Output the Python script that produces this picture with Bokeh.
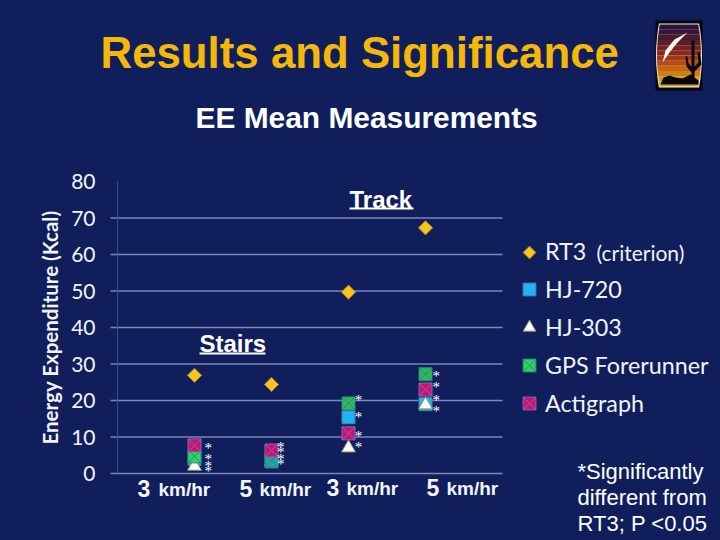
import math
from bokeh.plotting import figure
from bokeh.models import (ColumnDataSource, Label, Legend, LegendItem, PolyAnnotation,
                          BoxAnnotation, FixedTicker, LinearAxis)
from bokeh.embed import file_html
from bokeh.resources import INLINE

categories = [1, 2, 3, 4]
rt3 = [26.9, 24.4, 49.7, 67.3]
hj720 = [4.0, 3.3, 15.4, 19.0]
hj303 = [2.0, 3.3, 7.0, 18.8]
gps = [4.7, 3.6, 19.2, 27.2]
gps_colors = ["#2fd45e", "#1fa8a8", "#2fb85c", "#2fb85c"]
actigraph = [7.7, 6.3, 11.0, 23.0]
star_x = [1.18, 1.18, 1.18, 1.18, 2.12, 2.12, 2.12, 2.12,
          3.13, 3.13, 3.13, 3.13, 4.14, 4.14, 4.14, 4.14]
star_y = [7.9, 4.9, 3.0, 1.4, 8.2, 6.6, 4.9, 3.3,
          21.0, 16.2, 11.2, 8.0, 27.6, 24.6, 21.0, 18.0]
y_ticks = [0, 10, 20, 30, 40, 50, 60, 70, 80]
grid_ticks = [0, 10, 20, 30, 40, 50, 60, 70]
x_labels = [("3", "km/hr"), ("5", "km/hr"), ("3", "km/hr"), ("5", "km/hr")]
series_names = ["RT3", "HJ-720", "HJ-303", "GPS Forerunner", "Actigraph"]

BG = "#101f5c"
GRID = "#7d86bb"

W, H = 720, 540


def X(px):
    return (px - 117) / 77


def Y(py):
    return (473 - py) / 3.65


p = figure(width=W, height=H, output_backend="svg", toolbar_location=None,
           x_range=(X(0), X(W)), y_range=(Y(H), Y(0)),
           x_axis_type=None, y_axis_type=None,
           min_border=0, background_fill_color=BG, border_fill_color=BG, outline_line_color=None)
p.grid.visible = False

ax = LinearAxis(fixed_location=X(110), bounds=(0, 80))
ax.ticker = FixedTicker(ticks=y_ticks)
ax.axis_line_color = None
ax.major_tick_line_color = None
ax.minor_tick_line_color = None
ax.major_label_text_color = "#f2f3f8"
ax.major_label_text_font = "Lato"
ax.major_label_text_font_size = "21px"
ax.major_label_standoff = 9
ax.axis_label = "Energy Expenditure (Kcal)"
ax.axis_label_text_font = "Lato"
ax.axis_label_text_font_style = "bold"
ax.axis_label_text_font_size = "20.5px"
ax.axis_label_text_color = "#f2f3f8"
ax.axis_label_standoff = 6
p.add_layout(ax, "left")

p.segment(x0=[X(110)] * len(grid_ticks), y0=grid_ticks, x1=[X(502)] * len(grid_ticks), y1=grid_ticks,
          line_color=GRID, line_width=1.5)
p.segment(x0=[0], y0=[0], x1=[0], y1=[80], line_color="#3d4a88", line_width=1)

r_rt3 = p.scatter(categories, rt3, marker="square", angle=math.pi / 4, size=10, fill_color="#f7c51e",
                  line_color="#a8892a", line_width=1)
r_key = p.scatter(categories, rt3, marker="square", size=1, fill_alpha=0, line_alpha=0)
r_720 = p.scatter(categories, hj720, marker="square", size=13, fill_color="#1fb4f5",
                  line_color="#4a7fa8", line_width=1)
r_303 = p.scatter(categories, hj303, marker="triangle", size=14, fill_color="#fbfbf0",
                  line_color="#8a9078", line_width=1)
gps_src = ColumnDataSource(dict(x=categories, y=gps, c=gps_colors))
r_gps = p.scatter("x", "y", source=gps_src, marker="square_x", size=13, fill_color="c",
                  line_color="#2a8a78", line_width=1)
r_act = p.scatter(categories, actigraph, marker="square_x", size=13, fill_color="#c9136e",
                  line_color="#8468b8", line_width=1)
p.text(star_x, star_y, text=["*"] * len(star_x), text_color="white", text_font="Liberation Sans",
       text_font_size="15px", text_align="center", text_baseline="middle", y_offset=3)
# legend key of RT3: a turned square, which a legend cannot draw by itself
p.scatter([X(529)], [Y(252)], marker="square", angle=math.pi / 4, size=9, fill_color="#f7c51e",
          line_color="#a8892a", line_width=1)

legend = Legend(
    items=[LegendItem(label=series_names[0], renderers=[r_key]),
           LegendItem(label=series_names[1], renderers=[r_720]),
           LegendItem(label=series_names[2], renderers=[r_303]),
           LegendItem(label=series_names[3], renderers=[r_gps], index=0),
           LegendItem(label=series_names[4], renderers=[r_act])],
    location=(513, 121), orientation="vertical", margin=0, padding=0, spacing=6,
    glyph_width=32, glyph_height=32, label_height=20, label_width=100, label_standoff=0,
    border_line_color=None, background_fill_color=None, background_fill_alpha=0,
    label_text_color="#f2f3f8", label_text_font="Lato", label_text_font_size="23.3px")
p.add_layout(legend, "center")


def text(px, py, s, size, color="white", font="Liberation Sans", style="normal", align="left"):
    p.add_layout(Label(x=X(px), y=Y(py), text=s, text_color=color, text_font=font,
                       text_font_size=f"{size}px", text_font_style=style,
                       text_align=align, text_baseline="middle"))


text(100, 52, "Results and Significance", 43.8, color="#f5b80a", style="bold")
text(195, 117, "EE Mean Measurements", 29.9, style="bold")
text(349, 199, "Track", 24, style="bold")
text(199, 343, "Stairs", 24, style="bold")
p.add_layout(BoxAnnotation(left=X(349), right=X(413), top=Y(207), bottom=Y(209),
                           fill_color="white", fill_alpha=1, line_alpha=0))
p.add_layout(BoxAnnotation(left=X(199), right=X(265), top=Y(352), bottom=Y(354),
                           fill_color="white", fill_alpha=1, line_alpha=0))
text(596, 252, "(criterion)", 21, color="#f2f3f8", font="Lato")

for (num, unit), nx, ux, ly in zip(x_labels, [137, 239, 326, 426], [158, 259, 346, 446], [488, 488, 487, 487]):
    text(nx, ly, num, 23, color="#f4f5fa", style="bold")
    text(ux, ly + 1, unit, 19, color="#f4f5fa", style="bold")

text(577, 471, "*Significantly", 22)
text(577, 497, "different from", 22)
text(577, 523, "RT3; P <0.05", 22)


def poly(pts, color):
    p.add_layout(PolyAnnotation(xs=[X(a) for a, _ in pts], ys=[Y(b) for _, b in pts],
                                fill_color=color, fill_alpha=1, line_alpha=0))


# logo
poly([(655, 20), (702, 20), (702, 90), (655, 90)], "#06060f")


def half(py):
    t = (py - 55) / 35
    return 19.5 + 3.5 * (1 - t * t)


bands = ["#2a1238", "#3c1638", "#4c1a30", "#5e1e28", "#742224", "#8a2a1e", "#a0381a",
         "#b44c16", "#c46414", "#cf8014", "#d89a18", "#d8a420"]
top, bot = 23, 87
poly([(678.5 - half(py), py) for py in (top, 32, 45, 55, 65, 78, bot)] +
     [(678.5 + half(py), py) for py in (bot, 78, 65, 55, 45, 32, top)], "#f2efe4")
hb = (bot - top - 2) / len(bands)
for i, c in enumerate(bands):
    a, b = top + 1 + i * hb, top + 1 + (i + 1) * hb
    poly([(678.5 - half(a) + 1, a), (678.5 + half(a) - 1, a),
          (678.5 + half(b) - 1, b), (678.5 - half(b) + 1, b)], c)
poly([(662, 62), (665, 50), (674, 39), (687, 32), (677, 42), (669, 52)], "#fbf8f0")
poly([(660, 84), (663, 77), (669, 75), (675, 77), (682, 78), (690, 74), (698, 80), (698, 84)], "#06060f")
poly([(691, 40), (694, 40), (694, 66), (698, 62), (697, 52), (699, 52), (701, 64), (694, 71), (694, 80),
      (691, 80), (691, 72), (686, 66), (685, 56), (687, 56), (688, 63), (691, 66)], "#06060f")

html = file_html(p, INLINE)
html = html.replace("<head>", f"<head><style>html,body{{background:{BG};}}</style>", 1)
open("out.html", "w").write(html)
